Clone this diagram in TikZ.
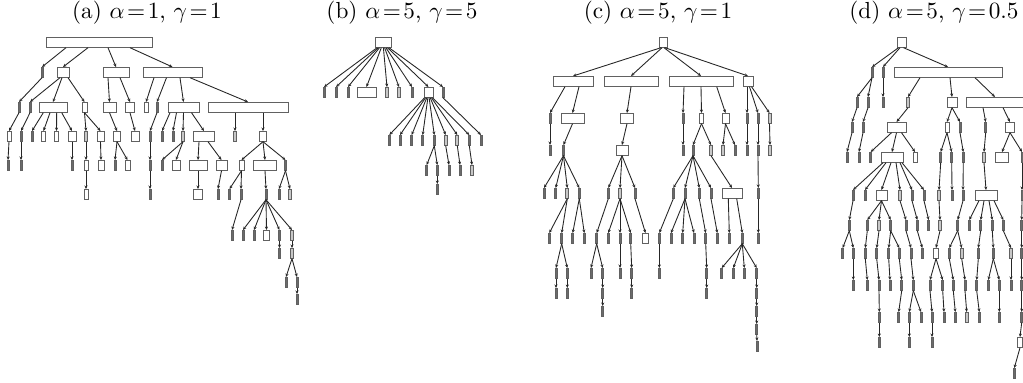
\documentclass[tikz,border=0pt]{standalone}
\usetikzlibrary{arrows.meta}
\tikzset{
 nd/.style={draw=black!62, fill=white, line width=0.4pt, inner sep=0pt, outer sep=0pt, minimum height=4.6pt, anchor=north},
 edge/.style={draw=black!85, line width=0.38pt, -{Stealth[length=1.5pt,width=1.3pt]}},
 ttl/.style={inner sep=0pt, anchor=base}
}
\def\pxs{0.43pt}
\newcommand\N[4]{%
 \ifdim#4pt<2.5pt\def\ndfill{black!58}\else\ifdim#4pt<3.5pt\def\ndfill{black!22}\else\def\ndfill{white}\fi\fi
 \node[nd,fill=\ndfill,minimum width=#4*\pxs] (#1) at (#2,#3) {};}
\newcommand\C[6][0]{\N{#3}{#4}{#5}{#6}\draw[edge] ([xshift=#1*\pxs]#2.south) -- (#3.north);}
\begin{document}
\begin{tikzpicture}[x=\pxs,y=-\pxs]
\useasboundingbox (0,0) rectangle (1023,383);
\clip (0,0) rectangle (1023,383);
% titles
\node[ttl] (ta) at (147,18.5) {(a) $\alpha\!=\!1$, $\gamma\!=\!1$};
\node[ttl] (tb) at (402,18.5) {(b) $\alpha\!=\!5$, $\gamma\!=\!5$};
\node[ttl] (tc) at (658,18.5) {(c) $\alpha\!=\!5$, $\gamma\!=\!1$};
\node[ttl] (td) at (934,18.5) {(d) $\alpha\!=\!5$, $\gamma\!=\!0.5$};
% ---------------- tree a
\N{a0}{99}{37}{106}
\C[-33]{a0}{a1}{42}{67}{2}
\C[-11]{a0}{a2}{63}{67}{12}
\C[9]{a0}{a3}{116}{67}{26}
\C[31]{a0}{a4}{172.5}{67}{59}
\C{a1}{a11}{19}{102}{2}
\C[-3]{a2}{a21}{30}{102}{2}
\C[-1]{a2}{a22}{53}{102}{28}
\C[5]{a2}{a23}{84.5}{102}{5}
\C[-8]{a3}{a31}{109.5}{102}{13}
\C[4]{a3}{a32}{130}{102}{9}
\C[-18.5]{a4}{a41}{146}{102}{4}
\C[-6]{a4}{a42}{157}{102}{2}
\C[7.5]{a4}{a43}{183.5}{102}{31}
\C[17.5]{a4}{a44}{248}{102}{80}
\C{a11}{a111}{9}{131}{4}
\C{a21}{a211}{21}{131}{2}
\C[-9.7]{a22}{a221}{32}{131}{2}
\C[-3]{a22}{a222}{43.5}{131}{4}
\C[3.7]{a22}{a223}{56.5}{131}{4}
\C[8.7]{a22}{a224}{72}{131}{8}
\C{a23}{a231}{86}{131}{3}
\C{a23}{a232}{100.5}{131}{7}
\C{a31}{a311}{117}{131}{7}
\C{a32}{a321}{135}{131}{8}
\C{a42}{a421}{150}{131}{2}
\C[-13.5]{a43}{a431}{162}{131}{2}
\C[-7]{a43}{a432}{173}{131}{2}
\C{a43}{a433}{183}{131}{3}
\C[8]{a43}{a434}{204}{131}{21}
\C[-13]{a44}{a441}{235}{131}{3}
\C[15]{a44}{a442}{263}{131}{7}
\C{a111}{a1111}{8}{160}{2}
\C{a211}{a2111}{21}{160}{2}
\C{a224}{a2241}{72}{160}{2}
\C{a231}{a2311}{86}{160}{4}
\C{a232}{a2321}{101}{160}{6}
\C{a311}{a3111}{115}{160}{2}
\C{a311}{a3112}{127.5}{160}{5}
\C{a421}{a4211}{150}{160}{2}
\C{a433}{a4331}{162}{160}{2}
\C{a433}{a4332}{176}{160}{8}
\C[-5]{a434}{a4341}{198}{160}{18}
\C[4]{a434}{a4342}{221.5}{160}{11}
\C{a442}{a4421}{241.5}{160}{5}
\C{a442}{a4422}{265}{160}{23}
\C{a442}{a4423}{285.5}{160}{2}
\C{a2311}{a23111}{86}{189}{4}
\C{a4211}{a42111}{150}{189}{2}
\C{a4341}{a43411}{198}{189}{9}
\C{a4342}{a43421}{218}{189}{2}
\C{a4421}{a44211}{229.5}{189}{2}
\C{a4421}{a44212}{241}{189}{2}
\C{a4422}{a44221}{266}{189}{2}
\C{a4423}{a44231}{279}{189}{2}
\C{a4423}{a44232}{290}{189}{3}
\C{a44212}{a442121}{232}{230}{2}
\C{a44221}{a442211}{243}{230}{2}
\C{a44221}{a442212}{254}{230}{2}
\C{a44221}{a442213}{266.5}{230}{6}
\C{a44221}{a442214}{279.5}{230}{2}
\C{a44221}{a442215}{292}{230}{3}
\C{a442214}{a4422141}{279.5}{248}{2}
\C{a442215}{a4422151}{292}{248}{3}
\C{a4422151}{a44221511}{286}{277}{2}
\C{a4422151}{a44221512}{297}{277}{2}
\C{a44221512}{a442215121}{297}{294}{2}
% ---------------- tree b
\N{b0}{383}{37}{16}
\C[-5.9]{b0}{b1}{324}{87}{2}
\C[-4.7]{b0}{b2}{336}{87}{2}
\C[-3.5]{b0}{b3}{348}{87}{2}
\C[-1.7]{b0}{b4}{366.5}{87}{19}
\C[0.4]{b0}{b5}{387}{87}{3}
\C[1.6]{b0}{b6}{399}{87}{3}
\C[2.9]{b0}{b7}{412}{87}{2}
\C[4.5]{b0}{b8}{428.5}{87}{9}
\C[6]{b0}{b9}{443}{87}{2}
\C[-3.9]{b8}{b81}{389.3}{135}{2}
\C[-2.9]{b8}{b82}{400}{135}{2}
\C[-1.7]{b8}{b83}{411.7}{135}{2}
\C[-0.6]{b8}{b84}{422.7}{135}{2}
\C[0.6]{b8}{b85}{434.3}{135}{2}
\C[1.7]{b8}{b86}{445.7}{135}{3}
\C[2.9]{b8}{b87}{457.3}{135}{3}
\C[4]{b8}{b88}{469.3}{135}{2}
\C{b9}{b91}{481}{135}{2}
\C{b85}{b851}{426.7}{165}{2}
\C{b85}{b852}{437.3}{165}{2}
\C{b86}{b861}{449}{165}{2}
\C{b87}{b871}{460}{165}{2}
\C{b88}{b881}{472}{165}{3}
\C{b852}{b8521}{437.3}{184}{2}
% ---------------- tree c
\N{c0}{663}{37}{8}
\C[-2]{c0}{c1}{573}{76}{40}
\C[-1]{c0}{c2}{631}{76}{54}
\C[1]{c0}{c3}{701}{76}{64}
\C[2]{c0}{c4}{748}{76}{10}
\C[-8]{c1}{c11}{550}{113}{2}
\C[6]{c1}{c12}{572.5}{113}{23}
\C{c2}{c21}{627}{113}{13}
\C[-17]{c3}{c31}{683}{113}{2}
\C{c3}{c32}{701.5}{113}{4}
\C[15.7]{c3}{c33}{725.5}{113}{7}
\C[-1]{c4}{c41}{747}{113}{2}
\C[1.5]{c4}{c42}{758}{113}{2}
\C[3.5]{c4}{c43}{769.5}{113}{3}
\C{c11}{c111}{550}{145}{2}
\C{c12}{c121}{563.5}{145}{2}
\C{c21}{c211}{622}{145}{12}
\C{c31}{c311}{683}{145}{2}
\C{c32}{c321}{693}{145}{2}
\C{c32}{c322}{711}{145}{3}
\C{c33}{c331}{723}{145}{3}
\C{c33}{c332}{735}{145}{2}
\C{c41}{c411}{747}{145}{2}
\C{c42}{c421}{758}{145}{2}
\C{c43}{c431}{770}{145}{3}
\C{c121}{c1211}{544}{188}{2}
\C{c121}{c1212}{555.7}{188}{2}
\C{c121}{c1213}{567.3}{188}{3}
\C{c121}{c1214}{579.3}{188}{2}
\C{c211}{c2111}{608.3}{188}{2}
\C{c211}{c2112}{620}{188}{3}
\C{c211}{c2113}{635}{188}{2}
\C{c321}{c3211}{673.3}{188}{2}
\C{c321}{c3212}{685}{188}{2}
\C{c321}{c3213}{699.3}{188}{2}
\C{c321}{c3214}{711}{188}{2}
\C{c322}{c3221}{732}{188}{20}
\C{c421}{c4211}{758.3}{188}{2}
\C{c1213}{c12131}{549.3}{233}{2}
\C{c1213}{c12132}{561.7}{233}{2}
\C{c1214}{c12141}{572.7}{233}{2}
\C{c1214}{c12142}{584.3}{233}{2}
\C{c2111}{c21111}{596.7}{233}{2}
\C{c2112}{c21121}{608.3}{233}{2}
\C{c2112}{c21122}{620}{233}{2}
\C{c2112}{c21123}{630.7}{233}{2}
\C{c2113}{c21131}{645.5}{233}{6}
\C{c3211}{c32111}{659.3}{233}{2}
\C{c3212}{c32121}{671}{233}{2}
\C{c3212}{c32122}{682.7}{233}{2}
\C{c3212}{c32123}{694}{233}{2}
\C{c3213}{c32131}{705.7}{233}{2}
\C{c3214}{c32141}{717.3}{233}{2}
\C[-3.7]{c3221}{c32211}{729.3}{233}{2}
\C[4.7]{c3221}{c32212}{742.3}{233}{2}
\C{c4211}{c42111}{758.3}{233}{2}
\C{c12132}{c121321}{556}{268}{2}
\C{c12132}{c121322}{567.3}{268}{2}
\C{c21111}{c211111}{591}{268}{2}
\C{c21111}{c211112}{602.7}{268}{2}
\C{c21122}{c211221}{620}{268}{2}
\C{c21123}{c211231}{631.7}{268}{2}
\C{c32111}{c321111}{659.3}{268}{2}
\C{c32131}{c321311}{706.7}{268}{2}
\C{c32212}{c322121}{721.7}{268}{2}
\C{c32212}{c322122}{733.3}{268}{2}
\C{c32212}{c322123}{744.3}{268}{2}
\C{c32212}{c322124}{756.7}{268}{2}
\C{c121321}{c1213211}{556}{288}{2}
\C{c121322}{c1213221}{567.3}{288}{2}
\C{c211112}{c2111121}{602.7}{288}{2}
\C{c211231}{c2112311}{631.7}{288}{2}
\C{c321311}{c3213111}{706.7}{288}{2}
\C{c322124}{c3221241}{756.7}{288}{2}
\C{c2111121}{c21111211}{602.7}{306}{2}
\C{c3221241}{c32212411}{756.7}{306}{2}
\C{c32212411}{c322124111}{756.7}{324}{2}
\C{c322124111}{c3221241111}{757}{341}{2}
% ---------------- tree d
\N{d0}{901.5}{37}{9}
\C[-3]{d0}{d1}{872}{67}{2}
\C[-1.5]{d0}{d2}{883}{67}{2}
\C[2]{d0}{d3}{948}{67}{108}
\C{d1}{d11}{857}{97}{2}
\C{d1}{d12}{868}{97}{2}
\C{d2}{d21}{883}{97}{2}
\C[-28]{d3}{d31}{908}{97}{3}
\C[2]{d3}{d32}{952}{97}{10}
\C[27]{d3}{d33}{995}{97}{57}
\C{d11}{d111}{852}{122}{2}
\C{d12}{d121}{863}{122}{2}
\C{d31}{d311}{896.5}{122}{19}
\C{d32}{d321}{947}{122}{4}
\C{d32}{d322}{960}{122}{2}
\C[-12]{d33}{d331}{985.7}{122}{2}
\C[8]{d33}{d332}{1010}{122}{9}
\C{d111}{d1111}{847}{152}{2}
\C{d121}{d1211}{859}{152}{2}
\C[-5]{d311}{d3111}{870.7}{152}{2}
\C{d311}{d3112}{892}{152}{22}
\C[5]{d311}{d3113}{915}{152}{4}
\C{d321}{d3211}{940.7}{152}{2}
\C{d321}{d3212}{951.7}{152}{2}
\C{d322}{d3221}{963.3}{152}{2}
\C{d331}{d3311}{984}{152}{3}
\C{d332}{d3321}{1002}{152}{13}
\C{d332}{d3322}{1022}{152}{2}
\C[-9]{d3112}{d31121}{853}{190}{2}
\C[-6]{d3112}{d31122}{865}{190}{2}
\C[-1]{d3112}{d31123}{881.5}{190}{11}
\C[4]{d3112}{d31124}{900}{190}{3}
\C[8]{d3112}{d31125}{912}{190}{2}
\C[10]{d3112}{d31126}{924}{190}{2}
\C{d3211}{d32111}{939}{190}{3}
\C{d3212}{d32121}{952}{190}{2}
\C{d3221}{d32211}{963}{190}{2}
\C{d3311}{d33111}{986}{190}{22}
\C{d3322}{d33221}{1022}{190}{2}
\C{d31121}{d311211}{849.3}{220}{2}
\C{d31123}{d311231}{867.3}{220}{2}
\C{d31123}{d311232}{879}{220}{3}
\C{d31123}{d311233}{890.7}{220}{2}
\C{d31124}{d311241}{906}{220}{2}
\C{d31125}{d311251}{917.3}{220}{2}
\C{d31126}{d311261}{928.7}{220}{2}
\C{d32111}{d321111}{940}{220}{3}
\C{d32211}{d322111}{957.7}{220}{2}
\C[-7]{d33111}{d331111}{969.3}{220}{2}
\C[-2]{d33111}{d331112}{980.7}{220}{2}
\C[3]{d33111}{d331113}{992.3}{220}{2}
\C[8]{d33111}{d331114}{1003.3}{220}{2}
\C{d33221}{d332211}{1021.7}{220}{2}
\C{d311211}{e1}{842.7}{248}{2}
\C{d311211}{e2}{853.3}{248}{2}
\C{d311231}{e3}{865.3}{248}{2}
\C{d311232}{e4}{876.7}{248}{2}
\C{d311233}{e5}{888.7}{248}{2}
\C{d311233}{e6}{899.3}{248}{2}
\C{d311241}{e7}{911}{248}{2}
\C{d311251}{e8}{922.3}{248}{2}
\C{d321111}{e9}{936}{248}{5}
\C{d322111}{e10}{949.3}{248}{2}
\C{d322111}{e11}{961.7}{248}{3}
\C{d331112}{e12}{978.3}{248}{2}
\C{d331113}{e13}{993.3}{248}{2}
\C{d331114}{e14}{1011}{248}{3}
\C{d332211}{e15}{1021.7}{248}{2}
\C{e2}{f1}{853.3}{280}{2}
\C{e3}{f2}{867.3}{280}{2}
\C{e4}{f3}{879}{280}{2}
\C{e5}{f4}{890}{280}{2}
\C{e6}{f5}{901.7}{280}{2}
\C{e7}{f6}{913.3}{280}{2}
\C{e9}{f7}{930}{280}{2}
\C{e9}{f8}{942.7}{280}{2}
\C{e10}{f9}{953.3}{280}{2}
\C{e11}{f10}{965}{280}{2}
\C{e12}{f11}{976.7}{280}{2}
\C{e13}{f12}{988.3}{280}{2}
\C{e13}{f13}{999.3}{280}{2}
\C{e14}{f14}{1011}{280}{2}
\C{e15}{f15}{1021.7}{280}{2}
\C{f3}{g1}{879.3}{312}{2}
\C{f5}{g2}{898.7}{312}{2}
\C{f6}{g3}{909.3}{312}{2}
\C{f6}{g4}{921}{312}{2}
\C{f7}{g5}{932}{312}{2}
\C{f8}{g6}{944}{312}{2}
\C{f9}{g7}{955.3}{312}{2}
\C{f10}{g8}{966.7}{312}{3}
\C{f11}{g9}{979.3}{312}{2}
\C{f13}{g10}{999.3}{312}{2}
\C{f15}{g11}{1021.7}{312}{2}
\C{g1}{h1}{879.3}{337}{2}
\C{g3}{h2}{909.3}{337}{2}
\C{g5}{h3}{932}{337}{2}
\C{g11}{h4}{1020}{337}{5}
\C{h4}{i1}{1014.3}{368}{2}
\end{tikzpicture}
\end{document}
